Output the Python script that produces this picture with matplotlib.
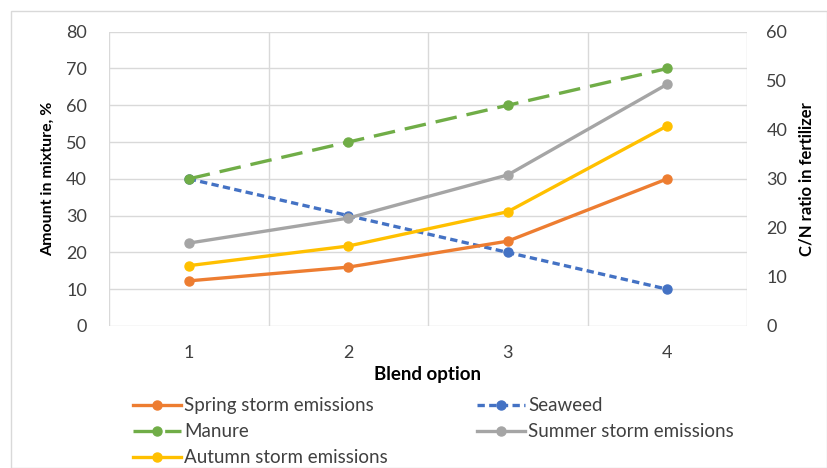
import matplotlib.pyplot as plt
from matplotlib.patches import Rectangle

plt.rcParams['font.family'] = ['Lato', 'DejaVu Sans']

blend = [1, 2, 3, 4]
seaweed = [40, 30, 20, 10]
manure = [40, 50, 60, 70]
spring = [9.2, 12.0, 17.3, 30.0]
summer = [16.9, 22.0, 30.8, 49.3]
autumn = [12.3, 16.3, 23.3, 40.8]

txt = '#404040'
grid_c = '#D9D9D9'

fig = plt.figure(figsize=(8.27, 4.68), dpi=100)
fig.patches.append(Rectangle((11 / 827, 0), 1 - 11 / 827, 1 - 11 / 468,
                             transform=fig.transFigure, fill=False,
                             edgecolor=grid_c, linewidth=1))

ax = fig.add_axes([109 / 827, 1 - 326 / 468, (747 - 109) / 827, (326 - 31.7) / 468])
ax2 = ax.twinx()

ax.set_xlim(0.5, 4.5)
ax.set_ylim(0, 80)
ax2.set_ylim(0, 60)
ax.set_xticks(blend)
ax.set_yticks(range(0, 81, 10))
ax2.set_yticks(range(0, 61, 10))
ax.set_xticks([0.5, 1.5, 2.5, 3.5, 4.5], minor=True)
ax.grid(True, which='major', axis='y', color=grid_c, linewidth=1)
ax.grid(True, which='minor', axis='x', color=grid_c, linewidth=1)
ax.set_axisbelow(True)
for a in (ax, ax2):
    for s in a.spines.values():
        s.set_visible(False)
    a.tick_params(length=0, which='both', labelsize=13, colors=txt)
ax.tick_params(axis='y', pad=16)
ax.tick_params(axis='x', pad=14)
ax2.tick_params(axis='y', pad=14)

lw = 2.4
ms = 6.5
l_sea, = ax.plot(blend, seaweed, color='#4472C4', lw=lw, marker='o', ms=ms,
                 dashes=(2.2, 1.3), label='Seaweed')
l_man, = ax.plot(blend, manure, color='#70AD47', lw=lw, marker='o', ms=ms,
                 dashes=(6.5, 3), label='Manure')
l_spr, = ax2.plot(blend, spring, color='#ED7D31', lw=lw, marker='o', ms=ms,
                  label='Spring storm emissions')
l_sum, = ax2.plot(blend, summer, color='#A5A5A5', lw=lw, marker='o', ms=ms,
                  label='Summer storm emissions')
l_aut, = ax2.plot(blend, autumn, color='#FFC000', lw=lw, marker='o', ms=ms,
                  label='Autumn storm emissions')

ax.set_xlabel('Blend option', fontsize=13.5, fontweight='bold', color='black', labelpad=3)
ax.set_ylabel('Amount in mixture, %', fontsize=11.5, fontweight='bold', color='black', labelpad=8)
ax2.set_ylabel('C/N ratio in fertilizer', fontsize=12, fontweight='bold', color='black', labelpad=8)

handles = [l_spr, l_man, l_aut, l_sea, l_sum]
fig.legend(handles, [h.get_label() for h in handles], ncol=2, frameon=False,
           loc='upper left', bbox_to_anchor=(0.152, 0.167), fontsize=13.5,
           handlelength=2.56, handletextpad=0.16, columnspacing=4.75,
           labelspacing=0.48, borderaxespad=0, labelcolor=txt)

fig.savefig('out.png', dpi=100)
